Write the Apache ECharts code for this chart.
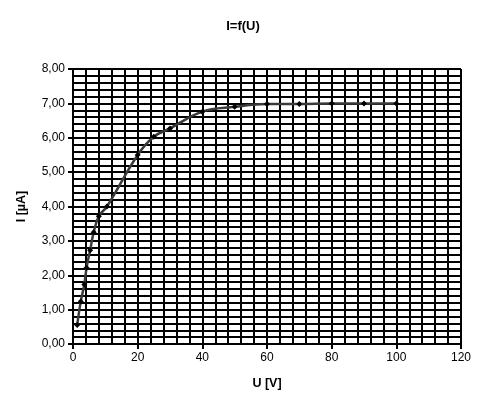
<!DOCTYPE html>
<html>
<head>
<meta charset="utf-8">
<script src="https://cdn.jsdelivr.net/npm/echarts@6/dist/echarts.min.js"></script>
<style>html,body{margin:0;padding:0;background:#fff}#c{width:486px;height:416px}</style>
</head>
<body>
<div id="c"></div>
<script>
const titleText = 'I=f(U)';
const xName = 'U [V]';
const yName = 'I [µA]';
const uValues = [1.3, 2.4, 3.5, 4.2, 5.3, 6.4, 8, 10.5, 20, 25, 30, 40, 50, 60, 70, 80, 90, 100];
const iValues = [0.55, 1.24, 1.73, 2.22, 2.73, 3.25, 3.72, 4.0, 5.5, 6.03, 6.27, 6.76, 6.9, 6.98, 6.98, 7.0, 7.0, 7.0];

const font = 'Liberation Sans, Arial, sans-serif';
const chart = echarts.init(document.getElementById('c'));
chart.setOption({
  backgroundColor: '#fff',
  animation: false,
  title: {
    text: titleText, left: 'center', top: 15,
    textStyle: { fontFamily: font, fontSize: 13, fontWeight: 'bold', color: '#000' }
  },
  grid: { left: 73, right: 25, top: 69, bottom: 72 },
  xAxis: {
    type: 'value', min: 0, max: 120, interval: 20,
    name: xName, nameLocation: 'middle', nameGap: 33,
    nameTextStyle: { fontFamily: font, fontSize: 12.5, fontWeight: 'bold', color: '#000' },
    axisLine: { show: true, onZero: false, lineStyle: { color: '#000', width: 2 } },
    axisTick: { show: true, inside: false, length: 5, lineStyle: { color: '#000', width: 2 } },
    axisLabel: { fontFamily: font, fontSize: 12, color: '#000', margin: 8 },
    splitLine: { show: true, lineStyle: { color: '#000', width: 2 } },
    minorTick: { show: false, splitNumber: 5 },
    minorSplitLine: { show: true, lineStyle: { color: '#000', width: 2 } }
  },
  yAxis: {
    type: 'value', min: 0, max: 8, interval: 1,
    name: yName, nameLocation: 'middle', nameGap: 45,
    nameTextStyle: { fontFamily: font, fontSize: 12.5, fontWeight: 'bold', color: '#000' },
    axisLine: { show: true, lineStyle: { color: '#000', width: 2 } },
    axisTick: { show: true, inside: false, length: 5, lineStyle: { color: '#000', width: 2 } },
    axisLabel: { fontFamily: font, fontSize: 12, color: '#000', margin: 8,
      formatter: v => v.toFixed(2).replace('.', ',') },
    splitLine: { show: true, lineStyle: { color: '#000', width: 2 } },
    minorTick: { show: false, splitNumber: 5 },
    minorSplitLine: { show: true, lineStyle: { color: '#000', width: 2 } }
  },
  series: [{
    type: 'line',
    data: uValues.map((u, k) => [u, iValues[k]]),
    smooth: 0.4,
    symbol: 'diamond', symbolSize: 6,
    itemStyle: { color: '#000' },
    lineStyle: { color: '#3a3a3a', width: 2.5 }
  }]
});
</script>
</body>
</html>
